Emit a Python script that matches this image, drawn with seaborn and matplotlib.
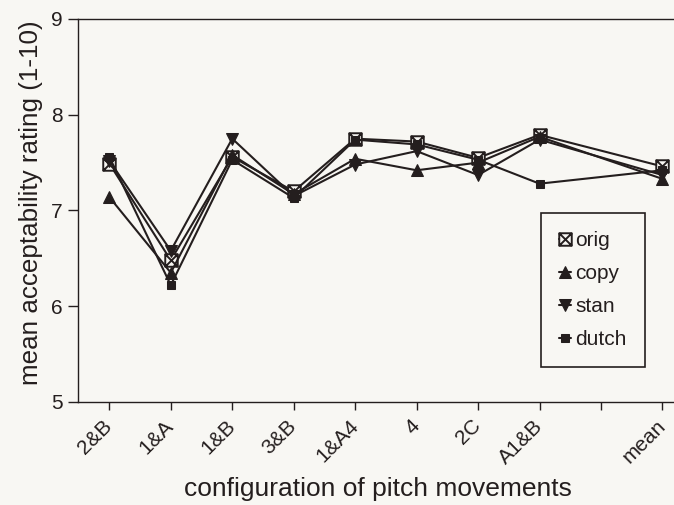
import numpy as np
import pandas as pd
import matplotlib
matplotlib.use("Agg")
import matplotlib.pyplot as plt
from matplotlib.path import Path
import seaborn as sns

# Pitch-movement configurations (the overall mean is shown after a gap)
configs = ["2&B", "1&A", "1&B", "3&B", "1&A4", "4", "2C", "A1&B"]
summary_label = "mean"

# Mean acceptability ratings per stimulus version
orig  = [7.49, 6.48, 7.56, 7.20, 7.75, 7.72, 7.55, 7.79, 7.46]
copy  = [7.14, 6.35, 7.58, 7.17, 7.54, 7.42, 7.50, 7.77, 7.33]
stan  = [7.52, 6.58, 7.75, 7.15, 7.48, 7.62, 7.37, 7.74, 7.37]
dutch = [7.56, 6.22, 7.53, 7.13, 7.74, 7.69, 7.53, 7.28, 7.42]

series = {"orig": orig, "copy": copy, "stan": stan, "dutch": dutch}

positions = list(range(len(configs))) + [len(configs) + 1]
tick_pos = list(range(len(configs) + 2))
tick_labels = configs + ["", summary_label]

# square with a cross through it
boxx = Path(
    [(-1, -1), (1, -1), (1, 1), (-1, 1), (-1, -1),
     (-1, -1), (1, 1), (-1, 1), (1, -1)],
    [Path.MOVETO, Path.LINETO, Path.LINETO, Path.LINETO, Path.CLOSEPOLY,
     Path.MOVETO, Path.LINETO, Path.MOVETO, Path.LINETO],
)

ink = "#241e1e"
paper = "#f8f7f3"
styles = {
    "orig":  dict(marker=boxx, markersize=9, mfc=paper, mec=ink, mew=1.4),
    "copy":  dict(marker="^", markersize=9, mfc=ink, mec=ink),
    "stan":  dict(marker="v", markersize=9, mfc=ink, mec=ink),
    "dutch": dict(marker="s", markersize=6, mfc=ink, mec=ink),
}

sns.set_theme(style="ticks")
plt.rcParams["font.family"] = ["Liberation Sans", "DejaVu Sans"]

fig = plt.figure(figsize=(6.74, 5.05), dpi=100, facecolor=paper)
ax = fig.add_axes([0.1157, 0.204, 0.89, 0.7584], facecolor=paper)

for name, vals in series.items():
    df = pd.DataFrame({"x": positions, "y": vals})
    sns.lineplot(data=df, x="x", y="y", ax=ax, color=ink, linewidth=1.5,
                 label=name, **styles[name])

ax.set_xlim(-0.51, 9.25)
ax.set_ylim(5, 9)
ax.set_yticks([5, 6, 7, 8, 9])
ax.set_xticks(tick_pos)
ax.set_xticklabels(tick_labels, rotation=45, ha="right", va="center",
                   rotation_mode="anchor", fontsize=15, color=ink)
ax.tick_params(axis="y", labelsize=15, colors=ink, length=7, width=1.0, pad=4)
ax.tick_params(axis="x", length=6, width=1.0, colors=ink, pad=9)

for side in ["left", "bottom", "top"]:
    ax.spines[side].set_color(ink)
    ax.spines[side].set_linewidth(1.0)
ax.spines["right"].set_visible(False)

ax.set_xlabel("configuration of pitch movements", fontsize=19, color=ink, labelpad=7)
ax.set_ylabel("mean acceptability rating (1-10)", fontsize=18.7, color=ink)
ax.yaxis.set_label_coords(-0.058, 0.52)

leg = ax.legend(loc="upper left", bbox_to_anchor=(0.772, 0.493), frameon=True,
                fancybox=False, edgecolor=ink, facecolor=paper, framealpha=1,
                fontsize=15, handlelength=0.6, handletextpad=0.2,
                labelspacing=0.68, borderpad=0.85, borderaxespad=0)
leg.get_frame().set_linewidth(1.2)
for t in leg.get_texts():
    t.set_color(ink)

fig.savefig("out.png", dpi=100, facecolor=paper)
